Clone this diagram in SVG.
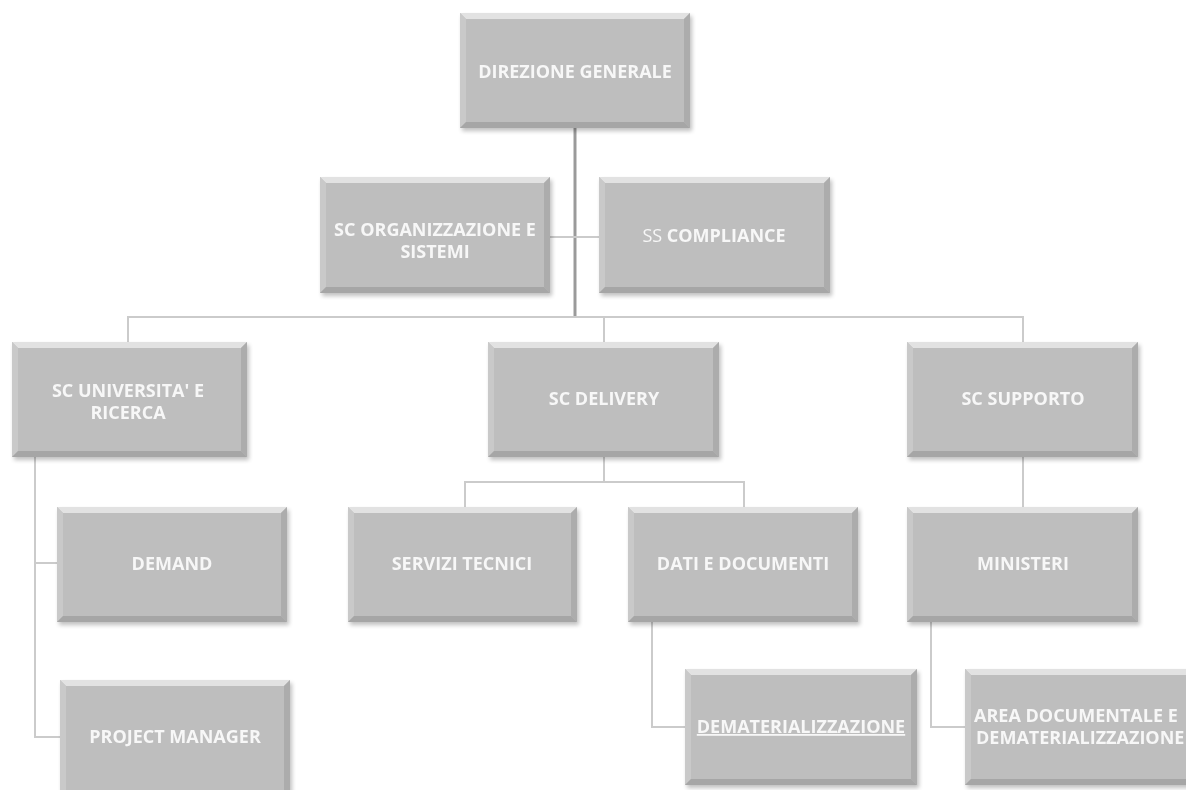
<svg xmlns="http://www.w3.org/2000/svg" width="1186" height="790" viewBox="0 0 1186 790">
<style>
.t{font-family:"Open Sans","Liberation Sans",Arial,sans-serif;font-weight:bold;font-size:18px;fill:#f7f7f7;text-anchor:middle}
.n{font-weight:normal}
.c{fill:none;stroke:#cbcbcb;stroke-width:2}
.trunk{fill:none;stroke:#9a9a9a;stroke-width:3}
.face{fill:#bebebe}
.bt{fill:#e2e2e2}
.bl{fill:#c9c9c9}
.br{fill:#acacac}
.bb{fill:#a6a6a6}
</style>
<defs>
<filter id="sh" x="-5%" y="-5%" width="115%" height="120%">
<feGaussianBlur in="SourceAlpha" stdDeviation="2"/>
<feOffset dx="2" dy="3"/>
<feComponentTransfer><feFuncA type="linear" slope="0.25"/></feComponentTransfer>
<feMerge><feMergeNode/><feMergeNode in="SourceGraphic"/></feMerge>
</filter>
</defs>
<g id="connectors">
<path class="trunk" d="M575 128V317"/>
<path class="c" d="M550 237H599"/>
<path class="c" d="M128 342V317H1023V342"/>
<path class="c" d="M604 317V342"/>
<path class="c" d="M604 457V482M465 507V482H744V507"/>
<path class="c" d="M1023 457V507"/>
<path class="c" d="M35 457V737H60M35 563H57"/>
<path class="c" d="M652 621V727H685"/>
<path class="c" d="M931 621V727H965"/>
</g>
<g id="n1" filter="url(#sh)"><rect class="face" x="460" y="13" width="230" height="115"/><polygon class="bt" points="460,13 690,13 684,19 466,19"/><polygon class="bl" points="460,13 466,19 466,122 460,128"/><polygon class="br" points="690,13 690,128 684,122 684,19"/><polygon class="bb" points="460,128 466,122 684,122 690,128"/><text class="t" x="575" y="78">DIREZIONE GENERALE</text></g>
<g id="n2" filter="url(#sh)"><rect class="face" x="320" y="177" width="230" height="116"/><polygon class="bt" points="320,177 550,177 544,183 326,183"/><polygon class="bl" points="320,177 326,183 326,287 320,293"/><polygon class="br" points="550,177 550,293 544,287 544,183"/><polygon class="bb" points="320,293 326,287 544,287 550,293"/><text class="t" x="435" y="236">SC ORGANIZZAZIONE  E</text><text class="t" x="435" y="258">SISTEMI</text></g>
<g id="n3" filter="url(#sh)"><rect class="face" x="599" y="177" width="231" height="116"/><polygon class="bt" points="599,177 830,177 824,183 605,183"/><polygon class="bl" points="599,177 605,183 605,287 599,293"/><polygon class="br" points="830,177 830,293 824,287 824,183"/><polygon class="bb" points="599,293 605,287 824,287 830,293"/><text class="t" x="714" y="242"><tspan class="n">SS </tspan>COMPLIANCE</text></g>
<g id="n4" filter="url(#sh)"><rect class="face" x="12" y="342" width="235" height="115"/><polygon class="bt" points="12,342 247,342 241,348 18,348"/><polygon class="bl" points="12,342 18,348 18,451 12,457"/><polygon class="br" points="247,342 247,457 241,451 241,348"/><polygon class="bb" points="12,457 18,451 241,451 247,457"/><text class="t" x="128" y="397">SC UNIVERSITA'  E</text><text class="t" x="128" y="419">RICERCA</text></g>
<g id="n5" filter="url(#sh)"><rect class="face" x="488" y="342" width="231" height="115"/><polygon class="bt" points="488,342 719,342 713,348 494,348"/><polygon class="bl" points="488,342 494,348 494,451 488,457"/><polygon class="br" points="719,342 719,457 713,451 713,348"/><polygon class="bb" points="488,457 494,451 713,451 719,457"/><text class="t" x="604" y="405">SC DELIVERY</text></g>
<g id="n6" filter="url(#sh)"><rect class="face" x="907" y="342" width="231" height="115"/><polygon class="bt" points="907,342 1138,342 1132,348 913,348"/><polygon class="bl" points="907,342 913,348 913,451 907,457"/><polygon class="br" points="1138,342 1138,457 1132,451 1132,348"/><polygon class="bb" points="907,457 913,451 1132,451 1138,457"/><text class="t" x="1023" y="405">SC SUPPORTO</text></g>
<g id="n7" filter="url(#sh)"><rect class="face" x="57" y="507" width="230" height="115"/><polygon class="bt" points="57,507 287,507 281,513 63,513"/><polygon class="bl" points="57,507 63,513 63,616 57,622"/><polygon class="br" points="287,507 287,622 281,616 281,513"/><polygon class="bb" points="57,622 63,616 281,616 287,622"/><text class="t" x="172" y="570">DEMAND</text></g>
<g id="n8" filter="url(#sh)"><rect class="face" x="348" y="507" width="229" height="115"/><polygon class="bt" points="348,507 577,507 571,513 354,513"/><polygon class="bl" points="348,507 354,513 354,616 348,622"/><polygon class="br" points="577,507 577,622 571,616 571,513"/><polygon class="bb" points="348,622 354,616 571,616 577,622"/><text class="t" x="462" y="570">SERVIZI TECNICI</text></g>
<g id="n9" filter="url(#sh)"><rect class="face" x="628" y="507" width="230" height="115"/><polygon class="bt" points="628,507 858,507 852,513 634,513"/><polygon class="bl" points="628,507 634,513 634,616 628,622"/><polygon class="br" points="858,507 858,622 852,616 852,513"/><polygon class="bb" points="628,622 634,616 852,616 858,622"/><text class="t" x="743" y="570">DATI E DOCUMENTI</text></g>
<g id="n10" filter="url(#sh)"><rect class="face" x="907" y="507" width="231" height="115"/><polygon class="bt" points="907,507 1138,507 1132,513 913,513"/><polygon class="bl" points="907,507 913,513 913,616 907,622"/><polygon class="br" points="1138,507 1138,622 1132,616 1132,513"/><polygon class="bb" points="907,622 913,616 1132,616 1138,622"/><text class="t" x="1023" y="570">MINISTERI</text></g>
<g id="n11" filter="url(#sh)"><rect class="face" x="60" y="680" width="230" height="115"/><polygon class="bt" points="60,680 290,680 284,686 66,686"/><polygon class="bl" points="60,680 66,686 66,795 60,795"/><polygon class="br" points="290,680 290,795 284,795 284,686"/><text class="t" x="175" y="743">PROJECT MANAGER</text></g>
<g id="n12" filter="url(#sh)"><rect class="face" x="685" y="669" width="232" height="116"/><polygon class="bt" points="685,669 917,669 911,675 691,675"/><polygon class="bl" points="685,669 691,675 691,779 685,785"/><polygon class="br" points="917,669 917,785 911,779 911,675"/><polygon class="bb" points="685,785 691,779 911,779 917,785"/><text class="t" x="801" y="733" text-decoration="underline">DEMATERIALIZZAZIONE</text></g>
<g id="n13" filter="url(#sh)"><rect class="face" x="965" y="669" width="240" height="116"/><polygon class="bt" points="965,669 1205,669 1199,675 971,675"/><polygon class="bl" points="965,669 971,675 971,779 965,785"/><polygon class="bb" points="965,785 971,779 1199,779 1205,785"/><text class="t" x="974" y="722" style="text-anchor:start">AREA DOCUMENTALE  E</text><text class="t" x="976" y="744" style="text-anchor:start">DEMATERIALIZZAZIONE</text></g>
</svg>
